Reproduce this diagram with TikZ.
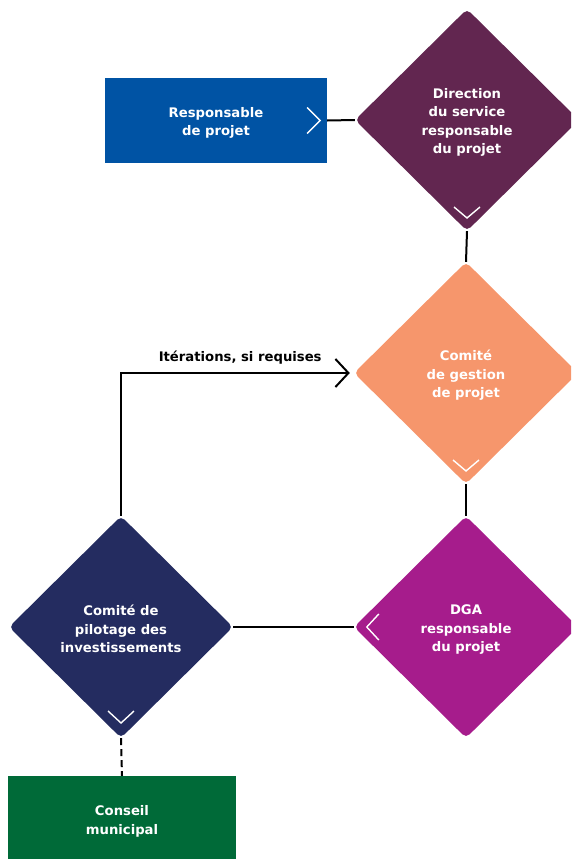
\documentclass[tikz,border=0pt]{standalone}
\usepackage{fontspec}
\setmainfont{DejaVu Sans}
\usetikzlibrary{shapes.geometric,arrows.meta}

\definecolor{cblue}{RGB}{0,83,164}
\definecolor{cplum}{RGB}{98,38,80}
\definecolor{corange}{RGB}{246,150,108}
\definecolor{cmagenta}{RGB}{166,28,140}
\definecolor{cnavy}{RGB}{36,44,96}
\definecolor{cgreen}{RGB}{0,106,56}

% a taller first line moves a centred block of lines a little lower
\newcommand\toppad{\rule{0pt}{15pt}}

\tikzset{
  x=1pt, y=-1pt,
  labelfont/.style={font=\bfseries\fontsize{13.2}{18.5}\selectfont},
  stepdiamond/.style={diamond, minimum width=224pt, minimum height=222pt,
    inner sep=0pt, rounded corners=5pt, text=white, align=center, labelfont},
  boxnode/.style={rectangle, minimum width=222pt, minimum height=85pt,
    inner sep=0pt, text=white, align=center, labelfont},
  link/.style={line width=2pt, black},
  chev/.style={white, line width=1.4pt},
}

\begin{document}
\begin{tikzpicture}
  \useasboundingbox (0,0) rectangle (571,859);
  \clip (0,0) rectangle (571,859);

  % stages
  \node[boxnode, fill=cblue] (resp) at (216,120.5) {\toppad Responsable\\de projet};
  \node[stepdiamond, fill=cplum] (dir) at (467,120)
    {\toppad Direction\\du service\\responsable\\du projet};
  \node[stepdiamond, fill=corange] (cgp) at (466,373)
    {\toppad Comité\\de gestion\\de projet};
  \node[stepdiamond, fill=cmagenta] (dga) at (466,627)
    {\toppad DGA\\responsable\\du projet};
  \node[stepdiamond, fill=cnavy] (cpi) at (121,627)
    {\toppad Comité de\\pilotage des\\investissements};
  \node[boxnode, fill=cgreen, minimum width=228pt, minimum height=86pt] (cm)
    at (122,819) {\toppad Conseil\\municipal};

  % white chevrons inside the shapes
  \draw[chev] ([shift={(-20,-13)}]resp.east) -- ([shift={(-7,0)}]resp.east)
    -- ([shift={(-20,13)}]resp.east);
  \draw[chev] ([shift={(-13,87)}]dir.center) -- ([shift={(0,98)}]dir.center)
    -- ([shift={(13,87)}]dir.center);
  \draw[chev] ([shift={(-13,87)}]cgp.center) -- ([shift={(0,98)}]cgp.center)
    -- ([shift={(13,87)}]cgp.center);
  \draw[chev] ([shift={(25,-13)}]dga.west) -- ([shift={(13,0)}]dga.west)
    -- ([shift={(25,13)}]dga.west);
  \draw[chev] ([shift={(-13,84)}]cpi.center) -- ([shift={(0,96)}]cpi.center)
    -- ([shift={(13,84)}]cpi.center);

  % connectors
  \draw[link] (resp.east) -- (dir.west);
  \draw[link] (dir.south) -- (cgp.north);
  \draw[link] (cgp.south) -- (dga.north);
  \draw[link] (cpi.east) -- (dga.west);
  \draw[link, -{Straight Barb[length=13pt, width=28pt]}, shorten >=4pt]
    (cpi.north) |- (cgp.west)
    node[pos=0.756, above=4pt, labelfont, text=black] {Itérations, si requises};
  \draw[link, dash pattern=on 7pt off 4pt] (cpi.south) -- (cm.north);
\end{tikzpicture}
\end{document}
